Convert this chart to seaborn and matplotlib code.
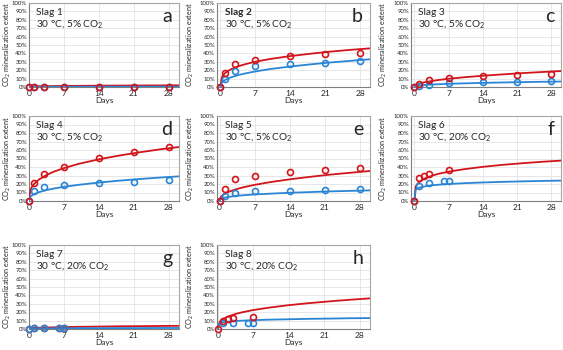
import pandas as pd
import matplotlib.pyplot as plt
import seaborn as sns
from matplotlib.ticker import PercentFormatter

fit_days = [0, 0.25, 0.5, 1, 2, 3.5, 5, 7, 10, 14, 18, 22, 26, 30]

# Slag 1
slag1_days = [0, 1, 3, 7, 14, 21, 28]
slag1_red = [0, 0.4, 0.4, 0.5, 0.4, 0.4, 0.4]
slag1_blue = [0, 0.1, 0.1, 0.2, 0.2, 0.2, 0.2]
slag1_red_fit = [0, 0.5, 0.6, 0.7, 0.9, 1.0, 1.1, 1.3, 1.4, 1.6, 1.7, 1.8, 1.9, 2.0]
slag1_blue_fit = [0, 0.1, 0.1, 0.2, 0.2, 0.2, 0.3, 0.3, 0.3, 0.3, 0.4, 0.4, 0.4, 0.4]

# Slag 2
slag2_days = [0, 1, 3, 7, 14, 21, 28]
slag2_red = [0, 17, 27.5, 32, 37, 39, 40]
slag2_blue = [0, 9, 19.6, 24.7, 27.5, 28, 30.5]
slag2_red_fit = [0, 11.3, 13.9, 17, 20.8, 24.5, 27.2, 30.1, 33.4, 36.8, 39.6, 42.1, 44.2, 46]
slag2_blue_fit = [0, 5.0, 6.5, 8.6, 11.3, 14.1, 16.2, 18.5, 21.4, 24.4, 26.9, 29.2, 31.1, 33]

# Slag 3
slag3_days = [0, 1, 3, 7, 14, 21, 28]
slag3_red = [0, 3.5, 8, 11, 12.8, 14, 15.5]
slag3_blue = [0, 1.5, 2.3, 4.3, 5.4, 5.4, 7]
slag3_red_fit = [0, 2.1, 2.9, 4, 5.5, 7.1, 8.4, 9.8, 11.5, 13.4, 15.0, 16.5, 17.8, 19]
slag3_blue_fit = [0, 1.1, 1.4, 1.8, 2.3, 2.9, 3.3, 3.8, 4.3, 4.9, 5.4, 5.8, 6.2, 6.5]

# Slag 4
slag4_days = [0, 1, 3, 7, 14, 21, 28]
slag4_red = [0, 21, 32, 39.6, 50.6, 57.6, 63]
slag4_blue = [0, 12, 16, 18.8, 20.8, 22.4, 24.3]
slag4_red_fit = [0, 12.5, 15.8, 20, 25.3, 30.6, 34.6, 38.7, 43.8, 49.1, 53.4, 57.2, 60.6, 63.5]
slag4_blue_fit = [0, 4.7, 6.2, 8, 10.4, 12.9, 14.7, 16.7, 19.1, 21.7, 23.9, 25.8, 27.5, 29]

# Slag 5
slag5_days = [0, 1, 3, 7, 14, 21, 28]
slag5_red = [0, 14, 26, 29.4, 34, 36.5, 38.4]
slag5_blue = [0, 5.5, 9.4, 11.4, 12.2, 13, 14.5]
slag5_red_fit = [0, 4.6, 6.2, 8.3, 11.2, 14.2, 16.5, 19, 22.1, 25.5, 28.4, 31.0, 33.2, 35.3]
slag5_blue_fit = [0, 2.5, 3.2, 4, 5.0, 6.1, 6.9, 7.7, 8.6, 9.7, 10.5, 11.3, 11.9, 12.5]

# Slag 6
slag6_red_days = [0, 1, 2, 3, 7]
slag6_red = [0, 27.5, 30, 32, 36.5]
slag6_blue_days = [0, 1, 3, 6, 7]
slag6_blue = [0, 18, 21.5, 23, 23]
slag6_red_fit = [0, 16.6, 19.3, 22.5, 26.2, 29.6, 32.1, 34.5, 37.3, 40.2, 42.5, 44.4, 46.1, 47.5]
slag6_blue_fit = [0, 13.2, 14.4, 15.7, 17.1, 18.4, 19.2, 20, 20.9, 21.8, 22.5, 23.1, 23.6, 24.0]

# Slag 7
slag7_days = [0, 1, 3, 6, 7]
slag7_red = [0, 0.6, 0.6, 0.6, 0.6]
slag7_blue = [0, 0.9, 0.9, 0.8, 0.8]
slag7_red_fit = [0, 0.8, 1.0, 1.2, 1.5, 1.8, 2.0, 2.3, 2.6, 2.9, 3.2, 3.4, 3.6, 3.8]
slag7_blue_fit = [0, 0.4, 0.5, 0.6, 0.7, 0.8, 0.8, 0.9, 1.0, 1.0, 1.1, 1.1, 1.2, 1.2]

# Slag 8
slag8_red_days = [0, 1, 2, 3, 7]
slag8_red = [0, 10, 11.5, 12.7, 14.7]
slag8_blue_days = [1, 3, 6, 7]
slag8_blue = [7, 7, 7, 7]
slag8_red_fit = [0, 7.5, 9.5, 11.9, 14.9, 18.0, 20.2, 22.6, 25.4, 28.4, 30.8, 32.9, 34.8, 36.5]
slag8_blue_fit = [0, 6.4, 7.1, 7.9, 8.7, 9.5, 10.0, 10.5, 11.1, 11.6, 12.1, 12.4, 12.8, 13]

titles = ['Slag 1', 'Slag 2', 'Slag 3', 'Slag 4', 'Slag 5', 'Slag 6', 'Slag 7', 'Slag 8']
conditions = ['30 °C, 5% CO$_2$'] * 5 + ['30 °C, 20% CO$_2$'] * 3
letters = ['a', 'b', 'c', 'd', 'e', 'f', 'g', 'h']

panels = [
    (slag1_days, slag1_red, slag1_days, slag1_blue, slag1_red_fit, slag1_blue_fit),
    (slag2_days, slag2_red, slag2_days, slag2_blue, slag2_red_fit, slag2_blue_fit),
    (slag3_days, slag3_red, slag3_days, slag3_blue, slag3_red_fit, slag3_blue_fit),
    (slag4_days, slag4_red, slag4_days, slag4_blue, slag4_red_fit, slag4_blue_fit),
    (slag5_days, slag5_red, slag5_days, slag5_blue, slag5_red_fit, slag5_blue_fit),
    (slag6_red_days, slag6_red, slag6_blue_days, slag6_blue, slag6_red_fit, slag6_blue_fit),
    (slag7_days, slag7_red, slag7_days, slag7_blue, slag7_red_fit, slag7_blue_fit),
    (slag8_red_days, slag8_red, slag8_blue_days, slag8_blue, slag8_red_fit, slag8_blue_fit),
]

RED = '#D2141B'
BLUE = '#2A86D4'

sns.set_style('white')
plt.rcParams['font.family'] = ['Lato', 'DejaVu Sans']
plt.rcParams['mathtext.fontset'] = 'custom'
plt.rcParams['mathtext.rm'] = 'Lato'
plt.rcParams['mathtext.it'] = 'Lato:italic'
plt.rcParams['mathtext.bf'] = 'Lato:bold'

fig = plt.figure(figsize=(5.63, 3.5), dpi=100)

# axes boxes in pixels: (left, right) per column, (top, bottom) per row
cols_px = [(29, 179), (217, 370), (411, 561)]
rows_px = [(3, 87), (116, 201), (245, 329)]
ylabel_x = [-0.105, -0.14, -0.148]
xmins = [0, -0.7, -0.7, 0, -0.5, -0.7, 0, -0.2]

for i, (rd, rv, bd, bv, rfit, bfit) in enumerate(panels):
    r, c = divmod(i, 3)
    l, rr = cols_px[c]
    t, b = rows_px[r]
    ax = fig.add_axes([l / 563, 1 - b / 350, (rr - l) / 563, (b - t) / 350])

    fit = pd.DataFrame({'Days': fit_days * 2,
                        'value': rfit + bfit,
                        'series': ['red'] * len(fit_days) + ['blue'] * len(fit_days)})
    pts = pd.DataFrame({'Days': rd + bd,
                        'value': rv + bv,
                        'series': ['red'] * len(rd) + ['blue'] * len(bd)})

    sns.lineplot(data=fit, x='Days', y='value', hue='series',
                 palette={'red': RED, 'blue': BLUE}, linewidth=1.3,
                 legend=False, ax=ax, zorder=3)

    order = ['red', 'blue'] if i == 6 else ['blue', 'red']
    for s in order:
        sub = pts[pts['series'] == s]
        ax.plot(sub['Days'], sub['value'], 'o', mfc='none',
                mec=RED if s == 'red' else BLUE, mew=1.2, ms=4.3,
                clip_on=False, zorder=4)

    ax.set_xlim(xmins[i], 30)
    ax.set_ylim(0, 100)
    ax.set_xticks([0, 7, 14, 21, 28])
    ax.set_yticks(range(0, 101, 10))
    ax.yaxis.set_major_formatter(PercentFormatter(decimals=0))
    ax.grid(True, color='#E3E3E3', linewidth=0.6)
    ax.set_axisbelow(True)
    ax.tick_params(axis='y', labelsize=4.3, length=0, pad=1.5)
    ax.tick_params(axis='x', labelsize=6, length=0, pad=2)
    for sp in ax.spines.values():
        sp.set_color('#A6A6A6')
        sp.set_linewidth(0.8)
    ax.spines['left'].set_color('#7F7F7F')
    ax.spines['bottom'].set_color('#7F7F7F')

    ax.set_xlabel('Days', fontsize=6, labelpad=0)
    ax.set_ylabel('CO$_2$ mineralization extent', fontsize=5.2)
    ax.yaxis.set_label_coords(ylabel_x[c], 0.5)

    ax.text(0.05, 0.89, titles[i], transform=ax.transAxes, fontsize=7.3,
            va='center', ha='left', fontweight='bold' if i == 1 else 'normal')
    ax.text(0.05, 0.75, conditions[i], transform=ax.transAxes, fontsize=7.3,
            va='center', ha='left')
    ax.text(0.955, 0.84, letters[i], transform=ax.transAxes, fontsize=14,
            va='center', ha='right')

plt.savefig('out.png', dpi=100)
